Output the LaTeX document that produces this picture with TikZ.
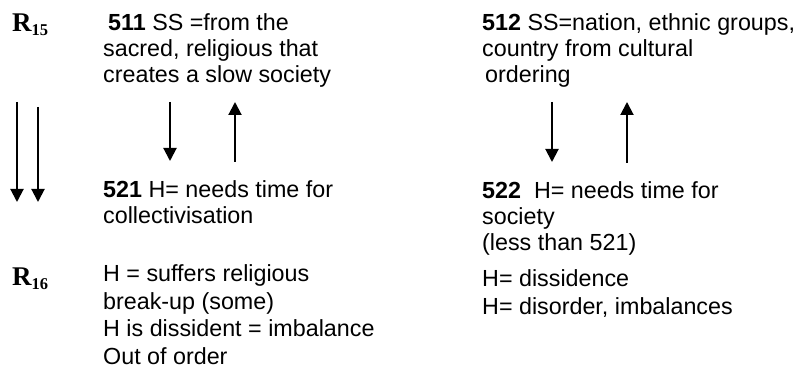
\documentclass[tikz,border=0pt]{standalone}
\usepackage{fontspec}
\setmainfont{Liberation Sans}
\newfontfamily\serifR{Liberation Serif}
\usetikzlibrary{arrows.meta, positioning}
\tikzstyle{txt}=[inner sep=0pt, anchor=base west, align=left, font=\fontsize{23.3}{26}\selectfont]
\tikzstyle{rlabel}=[inner sep=0pt, anchor=base west, font=\serifR\bfseries\fontsize{27}{27}\selectfont]
\tikzstyle{flow}=[line width=2pt, -{Triangle[length=13pt,width=13pt]}]
\newcommand{\rsub}[2]{#1\raisebox{-4pt}{\fontsize{16.5}{16.5}\selectfont #2}}

\begin{document}
\begin{tikzpicture}[x=1pt,y=-1pt]
    \useasboundingbox (0,0) rectangle (803,374);
    % row labels
    \node[rlabel] (r15) at (12,32) {\rsub{R}{15}};
    \node[rlabel] (r16) at (12,285) {\rsub{R}{16}};
    % text blocks (placed at the baseline of their last line)
    \node[txt] (s511) at (103,83) {\hspace*{5pt}\textbf{511} SS =from the\\sacred, religious that\\creates a slow society};
    \node[txt] (s512) at (482,83) {\textbf{512} SS=nation, ethnic groups,\\country from cultural\\\hspace*{3pt}ordering};
    \node[txt] (h521) at (103,224) {\textbf{521} H= needs time for\\collectivisation};
    \node[txt] (h522) at (482,251) {\textbf{522}\ \ H= needs time for\\society\\(less than 521)};
    \node[txt, font=\fontsize{23.3}{27.5}\selectfont] (r16a) at (103,364) {H = suffers religious\\break-up (some)\\H is dissident = imbalance\\Out of order};
    \node[txt, font=\fontsize{23.3}{27.5}\selectfont] (r16b) at (482,314) {H= dissidence\\H= disorder, imbalances};
    % vertical flows
    \coordinate (l1top) at (17,102);  \coordinate (l1end) at (17,202);
    \coordinate (l2top) at (38,107);  \coordinate (l2end) at (38,202);
    \coordinate (a1top) at (170,102); \coordinate (a1end) at (170,161);
    \coordinate (b1bot) at (235,162); \coordinate (b1end) at (235,102);
    \coordinate (a2top) at (552,102); \coordinate (a2end) at (552,162);
    \coordinate (b2bot) at (627,163); \coordinate (b2end) at (627,102);
    \draw[flow] (l1top) -- (l1end);
    \draw[flow] (l2top) -- (l2end);
    \draw[flow] (a1top) -- (a1end);
    \draw[flow] (b1bot) -- (b1end);
    \draw[flow] (a2top) -- (a2end);
    \draw[flow] (b2bot) -- (b2end);
\end{tikzpicture}
\end{document}
